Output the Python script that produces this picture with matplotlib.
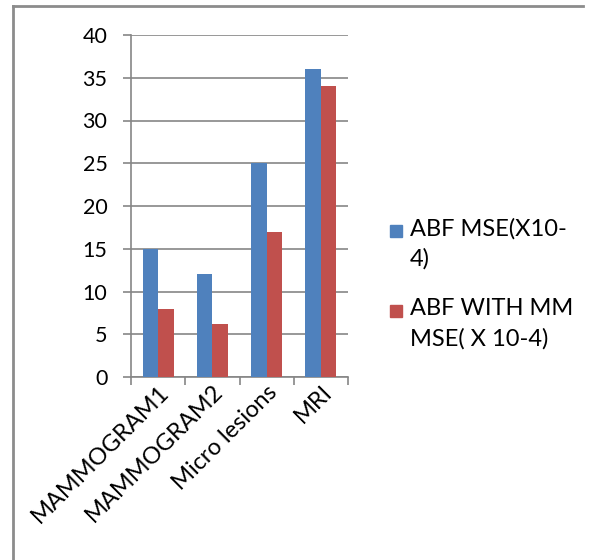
import matplotlib
matplotlib.use("Agg")
import matplotlib.pyplot as plt
import numpy as np
from matplotlib.patches import Rectangle
from matplotlib.lines import Line2D

# ── data ─────────────────────────────────────────────────────────────────────
categories = ["MAMMOGRAM1", "MAMMOGRAM2", "Micro lesions", "MRI"]
abf_mse = [15, 12, 25, 36]
abf_mm_mse = [8, 6.2, 17, 34]
series_labels = ["ABF MSE(X10-\n4)", "ABF WITH MM\nMSE( X 10-4)"]
y_ticks = [0, 5, 10, 15, 20, 25, 30, 35, 40]

BLUE = "#4F81BD"
RED = "#C0504D"
GRID = "#868686"

plt.rcParams["font.family"] = ["Lato", "DejaVu Sans"]

fig = plt.figure(figsize=(5.93, 5.6), dpi=100)
W, H = 593, 560
ax = fig.add_axes([131 / W, 1 - 377 / H, (348 - 131) / W, (377 - 35) / H])

x = np.arange(len(categories))
bw = 1 / 3.5  # Excel default gap width of 150 %
ax.bar(x - bw / 2, abf_mse, width=bw, color=BLUE, zorder=3)
ax.bar(x + bw / 2, abf_mm_mse, width=bw, color=RED, zorder=3)

ax.set_xlim(-0.5, len(categories) - 0.5)
ax.set_ylim(0, 40)
ax.set_yticks(y_ticks)
ax.set_yticklabels([str(t) for t in y_ticks], fontsize=15.5)
ax.yaxis.grid(True, color=GRID, linewidth=1.2, zorder=0)
ax.tick_params(axis="y", length=6, width=1.2, color=GRID, pad=11)

# category ticks sit on the group boundaries, labels at group centres
ax.set_xticks(np.arange(-0.5, len(categories)), minor=False)
ax.set_xticklabels([])
ax.set_xticks(x, minor=True)
ax.set_xticklabels(categories, minor=True, fontsize=17, rotation=45,
                   ha="right", va="top", rotation_mode="anchor")
ax.tick_params(axis="x", which="major", length=6, width=1.2, color=GRID)
ax.tick_params(axis="x", which="minor", length=0, pad=3)

for side in ("top", "right"):
    ax.spines[side].set_visible(False)
for side in ("left", "bottom"):
    ax.spines[side].set_color(GRID)
    ax.spines[side].set_linewidth(1.2)

# legend: square markers aligned with the first text line
for i, (label, color) in enumerate(zip(series_labels, [BLUE, RED])):
    y0 = 1 - (231 + i * 80) / H
    fig.patches.append(Rectangle((390 / W, y0 - 6 / H), 12 / W, 12 / H,
                                 transform=fig.transFigure, color=color))
    fig.text(410 / W, y0 + 13 / H, label, fontsize=17, va="top", ha="left",
             linespacing=1.5)

# outer frame (left and top edges)
fig.lines.append(Line2D([13 / W, 13 / W], [0, 1 - 6 / H],
                        transform=fig.transFigure, color="#8C8C8C", linewidth=2))
fig.lines.append(Line2D([13 / W, 583 / W], [1 - 6 / H, 1 - 6 / H],
                        transform=fig.transFigure, color="#8C8C8C", linewidth=2))

fig.savefig("out.png", dpi=100)
